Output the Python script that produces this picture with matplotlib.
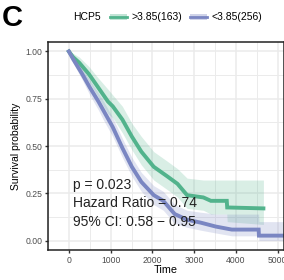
import matplotlib
matplotlib.use("Agg")
import matplotlib.pyplot as plt
from matplotlib.patches import Rectangle
from matplotlib.lines import Line2D
import numpy as np

plt.rcParams['font.family'] = ['Liberation Sans', 'DejaVu Sans']

# HCP5 high group (>3.85, n=163); repeated times are the visible drops in the tail
time_hi = [0, 100, 250, 480, 700, 936, 1050, 1280, 1507, 1735, 2032, 2352, 2600, 2830, 3219, 3400, 3780, 3790, 4657]
surv_hi = [1.00, 0.97, 0.94, 0.88, 0.81, 0.735, 0.71, 0.64, 0.55, 0.47, 0.39, 0.34, 0.30, 0.24, 0.228, 0.21, 0.21, 0.175, 0.17]
hi_upper = [1.00, 0.99, 0.97, 0.92, 0.86, 0.80, 0.77, 0.71, 0.62, 0.55, 0.47, 0.42, 0.38, 0.33, 0.32, 0.32, 0.32, 0.32, 0.32]
hi_lower = [1.00, 0.95, 0.91, 0.84, 0.76, 0.67, 0.65, 0.57, 0.48, 0.40, 0.32, 0.27, 0.23, 0.17, 0.16, 0.14, 0.14, 0.10, 0.085]

# HCP5 low group (<3.85, n=256)
time_lo = [0, 100, 320, 500, 708, 822, 1050, 1280, 1507, 1735, 2032, 2260, 2534, 2830, 3150, 3516, 3900, 4543, 4550, 5150]
surv_lo = [1.00, 0.96, 0.88, 0.81, 0.735, 0.69, 0.60, 0.49, 0.39, 0.31, 0.24, 0.21, 0.14, 0.11, 0.095, 0.074, 0.058, 0.058, 0.026, 0.026]
lo_upper = [1.00, 0.98, 0.91, 0.85, 0.78, 0.74, 0.65, 0.54, 0.44, 0.36, 0.29, 0.26, 0.19, 0.16, 0.15, 0.14, 0.14, 0.14, 0.10, 0.10]
lo_lower = [1.00, 0.94, 0.85, 0.77, 0.69, 0.64, 0.55, 0.44, 0.34, 0.26, 0.19, 0.16, 0.09, 0.07, 0.055, 0.04, 0.025, 0.025, 0.0, 0.0]

labels = ['>3.85(163)', '<3.85(256)']
stats = ['p = 0.023', 'Hazard Ratio = 0.74', '95% CI: 0.58 \u2212 0.95']

green = '#52B38C'
blue = '#7A86C2'

fig = plt.figure(figsize=(2.84, 2.80), dpi=100)
ax = fig.add_axes([48/284, 30/280, 236/284, 208/280])

ax.fill_between(time_hi, hi_lower, hi_upper, color=green, alpha=0.22, lw=0)
ax.fill_between(time_lo, lo_lower, lo_upper, color=blue, alpha=0.22, lw=0)
ax.plot(time_hi, surv_hi, color=green, lw=2.8, solid_joinstyle='miter')
ax.plot(time_lo, surv_lo, color=blue, lw=2.8, solid_joinstyle='miter')

ax.set_xlim(-245, 5150)
ax.set_ylim(-0.05, 1.05)
ax.set_xticks([0, 1000, 2000, 3000, 4000, 5000])
ax.set_xticks(np.arange(-500, 5500, 500), minor=True)
ax.set_yticks([0, 0.25, 0.5, 0.75, 1.0])
ax.set_yticklabels(['0.00', '0.25', '0.50', '0.75', '1.00'])
ax.set_yticks(np.arange(0.125, 1.0, 0.25), minor=True)
ax.grid(True, which='major', color='#EBEBEB', lw=1.1)
ax.grid(True, which='minor', color='#EBEBEB', lw=0.7)
ax.set_axisbelow(True)
ax.tick_params(which='major', length=2.5, width=1, color='#333333', labelsize=6.2, labelcolor='#4D4D4D', pad=1.5)
ax.tick_params(which='minor', length=0)
for s in ax.spines.values():
    s.set_color('#222222')
    s.set_linewidth(1.1)

ax.set_xlabel('Time', fontsize=7.8, labelpad=0)
ax.set_ylabel('Survival probability', fontsize=7.5, labelpad=3)

for i, t in enumerate(stats):
    ax.text(90, 0.296 - i * 0.098, t, fontsize=10, va='center', ha='left', color='#222222')

# legend at top
fig.text(0.007, 0.936, 'C', fontsize=21, fontweight='bold', va='center', ha='left')
fig.text(73/284, 0.94, 'HCP5', fontsize=7.5, va='center', ha='left')
for x0, col, lab in [(110, green, labels[0]), (190, blue, labels[1])]:
    fig.add_artist(Rectangle((x0/284, 0.94 - 3/280), 17/284, 6/280, transform=fig.transFigure,
                             color=col, alpha=0.35, lw=0))
    fig.add_artist(Line2D([x0/284, (x0 + 17)/284], [0.94, 0.94], transform=fig.transFigure,
                          color=col, lw=2))
    fig.text((x0 + 22)/284, 0.94, lab, fontsize=7.5, va='center', ha='left')

fig.savefig('out.png', dpi=100)
